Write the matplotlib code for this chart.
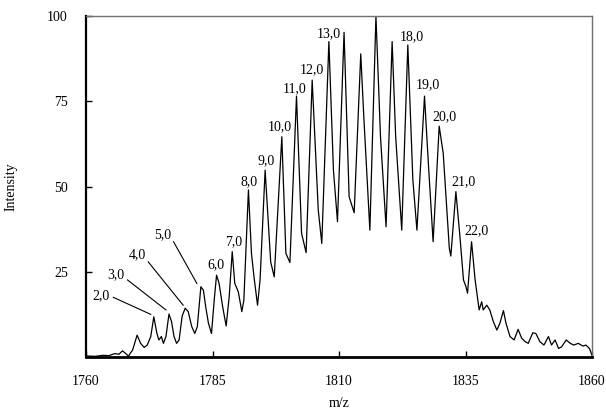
import matplotlib
matplotlib.use("Agg")
import matplotlib.pyplot as plt

plt.rcParams["font.family"] = ["Liberation Serif", "DejaVu Serif"]

# Spectrum trace (m/z, relative intensity)
mz = [1760.0, 1761.8, 1763.4, 1764.5, 1765.7, 1766.5, 1767.2, 1767.8, 1768.4, 1768.7,
      1769.2, 1769.6, 1770.1, 1770.8, 1771.5, 1772.1, 1772.8, 1773.4, 1774.0, 1774.4,
      1774.9, 1775.3, 1775.8, 1776.4, 1776.9, 1777.4, 1777.9, 1778.4, 1779.0, 1779.6,
      1780.2, 1780.9, 1781.5, 1782.0, 1782.7, 1783.2, 1783.7, 1784.2, 1784.8, 1785.4,
      1785.8, 1786.3, 1787.0, 1787.7, 1788.3, 1788.9, 1789.4, 1790.1, 1790.8, 1791.2,
      1792.1, 1792.7, 1793.2, 1793.9, 1794.4, 1795.4, 1796.5, 1797.2, 1798.7, 1799.5,
      1800.3, 1801.6, 1802.6, 1803.5, 1804.7, 1805.9, 1806.6, 1808.0, 1808.9, 1809.7,
      1811.0, 1812.0, 1813.0, 1814.3, 1814.9, 1816.1, 1817.3, 1818.2, 1819.3, 1820.5,
      1821.2, 1822.4, 1823.6, 1824.6, 1825.4, 1826.9, 1827.7, 1828.6, 1829.8, 1830.6,
      1831.8, 1832.1, 1833.1, 1833.9, 1834.6, 1835.1, 1835.4, 1836.2, 1836.9, 1837.7,
      1838.2, 1838.5, 1839.2, 1839.8, 1840.5, 1841.2, 1841.8, 1842.5, 1843.0, 1843.8,
      1844.6, 1845.4, 1846.1, 1846.8, 1847.4, 1848.3, 1848.9, 1849.7, 1850.5, 1851.4,
      1852.0, 1852.7, 1853.4, 1854.0, 1854.9, 1855.7, 1856.4, 1857.3, 1858.2, 1858.8,
      1859.5, 1860.0]
intensity = [0.3, 0.2, 0.5, 0.4, 1.0, 0.8, 1.8, 1.1, 0.2, 1.0,
             2.0, 4.0, 6.4, 4.0, 2.8, 3.5, 6.0, 11.8, 7.0, 5.0,
             6.0, 4.0, 6.0, 12.6, 10.4, 6.0, 4.0, 5.0, 12.0, 14.3,
             13.3, 8.9, 6.9, 8.9, 20.6, 19.6, 14.3, 9.9, 6.9, 17.7,
             24.0, 21.6, 14.8, 9.1, 17.7, 30.9, 21.6, 19.1, 13.3, 16.7,
             49.0, 30.4, 23.5, 15.2, 22.6, 54.8, 27.9, 23.5, 64.6, 30.4,
             27.7, 76.5, 36.3, 30.6, 81.2, 43.1, 33.3, 92.5, 54.8, 39.7,
             95.2, 47.0, 42.3, 88.9, 70.5, 37.2, 100.0, 64.6, 38.2, 92.5,
             64.6, 37.2, 91.5, 51.9, 37.2, 76.5, 55.8, 33.8, 67.7, 59.7,
             31.9, 29.6, 48.5, 35.3, 22.6, 20.6, 18.7, 33.8, 22.6, 13.8,
             16.2, 13.8, 15.2, 13.8, 10.4, 7.9, 9.9, 13.6, 9.9, 6.0,
             5.0, 8.1, 5.5, 4.5, 4.0, 7.1, 6.9, 4.5, 3.5, 6.0,
             3.5, 5.0, 2.5, 3.0, 5.0, 4.0, 3.5, 4.0, 3.2, 3.5,
             2.5, 0.5]

# Peak assignments and where their labels sit
peak_labels = ["2,0", "3,0", "4,0", "5,0", "6,0", "7,0", "8,0", "9,0", "10,0",
               "11,0", "12,0", "13,0", "18,0", "19,0", "20,0", "21,0", "22,0"]
label_mz = [1762.9, 1765.9, 1770.1, 1775.2, 1785.7, 1789.1, 1792.3, 1795.5, 1798.3,
            1801.3, 1804.7, 1807.9, 1824.4, 1827.6, 1830.9, 1834.6, 1837.2]
label_int = [17.9, 24.0, 29.9, 35.8, 27.0, 33.8, 51.4, 57.6, 67.5,
             78.8, 84.4, 94.9, 93.8, 79.8, 70.5, 51.4, 37.0]

# Leader lines for the crowded low-mass labels: (label, start, end)
leaders = {
    "2,0": ((1765.4, 17.5), (1772.8, 12.5)),
    "3,0": ((1768.2, 22.6), (1775.8, 13.8)),
    "4,0": ((1772.3, 27.9), (1779.2, 15.2)),
    "5,0": ((1777.3, 33.8), (1781.9, 21.6)),
}

x_ticks = [1760, 1785, 1810, 1835, 1860]
y_ticks = [25, 50, 75, 100]

fig = plt.figure(figsize=(6.06, 4.13), dpi=100)
ax = fig.add_axes([86 / 606, 1 - 357 / 413, 506 / 606, 341 / 413])

ax.plot(mz, intensity, color="black", lw=0.9)

for name, xm, yi in zip(peak_labels, label_mz, label_int):
    ax.text(xm, yi, name, ha="center", va="center", fontsize=10)
    if name in leaders:
        (x0, y0), (x1, y1) = leaders[name]
        ax.plot([x0, x1], [y0, y1], color="black", lw=0.8)

ax.set_xlim(1760, 1860)
ax.set_ylim(0, 100)
ax.set_xticks(x_ticks)
ax.set_yticks(y_ticks)
ax.tick_params(axis="both", direction="in", length=4, width=1, labelsize=10, pad=13)

ax.spines["left"].set_linewidth(1.6)
ax.spines["bottom"].set_linewidth(2.0)
for side in ("top", "right"):
    ax.spines[side].set_color("#707070")
    ax.spines[side].set_linewidth(1.0)

ax.set_xlabel("m/z", fontsize=10)
ax.set_ylabel("Intensity", fontsize=10)
ax.xaxis.set_label_coords(0.5, -0.117)
ax.yaxis.set_label_coords(-0.136, 0.5)

fig.savefig("out.png", dpi=100)
